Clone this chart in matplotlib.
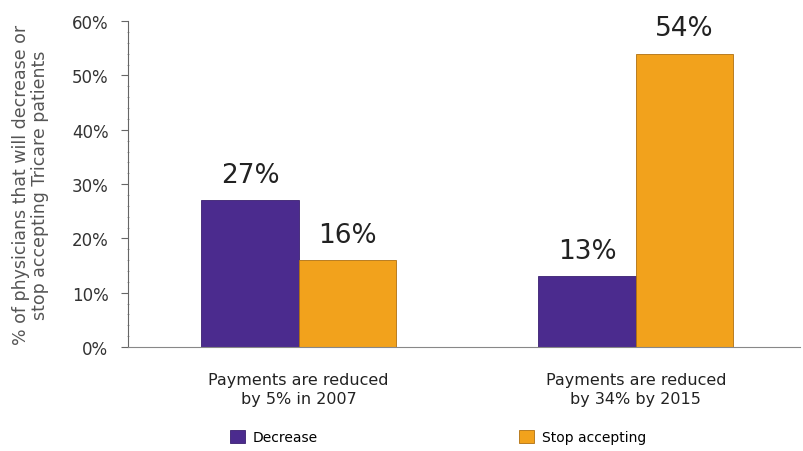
import numpy as np
import matplotlib
matplotlib.use("Agg")
import matplotlib.pyplot as plt
from matplotlib.ticker import MultipleLocator

categories = ["Payments are reduced\nby 5% in 2007", "Payments are reduced\nby 34% by 2015"]
decrease = [27, 13]
stop_accepting = [16, 54]
series_names = ["Decrease", "Stop accepting"]
yticks = [0, 10, 20, 30, 40, 50, 60]

purple = "#4b2b8e"
orange = "#f2a21c"

fig = plt.figure(figsize=(8.04, 4.52), dpi=100)
ax = fig.add_axes([0.159, 0.23, 0.836, 0.721])

x = np.arange(len(categories))
w = 0.289
b1 = ax.bar(x - w / 2, decrease, w, color=purple, edgecolor="#3a2070", linewidth=0.6, label=series_names[0])
b2 = ax.bar(x + w / 2, stop_accepting, w, color=orange, edgecolor="#b07010", linewidth=0.6, label=series_names[1])

for bars, vals in [(b1, decrease), (b2, stop_accepting)]:
    for r, v in zip(bars, vals):
        ax.text(r.get_x() + r.get_width() / 2, v + 2.3, f"{v}%", ha="center", va="bottom",
                fontsize=19, color="#222222")

ax.set_xlim(-0.507, 1.487)
ax.set_ylim(0, 60)
ax.set_yticks(yticks)
ax.set_yticklabels([f"{t}%" for t in yticks], fontsize=12, color="#333333")
ax.yaxis.set_minor_locator(MultipleLocator(2))
ax.tick_params(axis="y", which="major", length=5, color="#666666", direction="out", pad=9)
ax.tick_params(axis="y", which="minor", length=2, color="#999999", direction="inout")
ax.set_xticks(x)
ax.set_xticklabels(categories, fontsize=11.5, color="#222222", linespacing=1.35)
ax.tick_params(axis="x", length=0, pad=18)

for s in ["top", "right"]:
    ax.spines[s].set_visible(False)
ax.spines["left"].set_color("#666666")
ax.spines["bottom"].set_color("#888888")
ax.spines["bottom"].set_linestyle((0, (1, 1)))

ax.set_ylabel("% of physicians that will decrease or\nstop accepting Tricare patients",
              fontsize=12.5, color="#555555", labelpad=16, linespacing=1.1)

fig.legend(loc="lower left", bbox_to_anchor=(0.27, -0.012), ncol=2, frameon=False,
           fontsize=10, handlelength=1.1, handleheight=1.1, columnspacing=14.5,
           handletextpad=0.55)

fig.savefig("out.png", dpi=100)
